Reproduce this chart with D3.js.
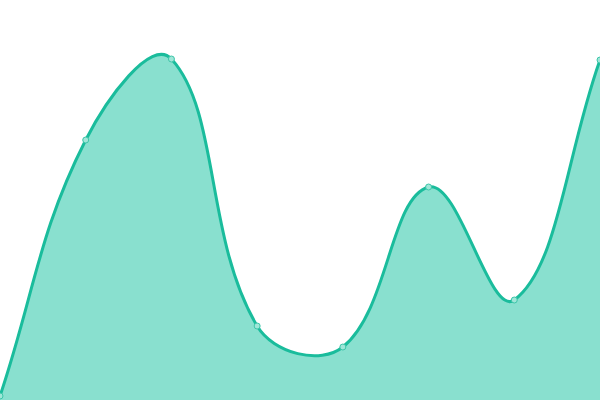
<!DOCTYPE html>
<html>
<head>
<meta charset="utf-8">
<script src="https://cdn.jsdelivr.net/npm/d3@7"></script>
<style>
  html, body { margin: 0; padding: 0; background: #fff; }
  svg { display: block; }
</style>
</head>
<body>
<script>
// Data (y on a 0-100 scale)
const xIndex = [0, 1, 2, 3, 4, 5, 6, 7];
const values = [1, 65, 85.25, 18.5, 13.25, 53.25, 25, 85];

const width = 600, height = 400;
const tension = 0.4;

const svg = d3.select("body").append("svg")
    .attr("width", width)
    .attr("height", height);

const x = d3.scaleLinear()
    .domain([0, xIndex.length - 1])
    .range([0, width]);

const y = d3.scaleLinear()
    .domain([0, 100])
    .range([height, 0]);

const data = xIndex.map((d, i) => ({ x: d, y: values[i] }));

// Distance-weighted bezier spline (same idea as Chart.js "tension" lines)
function TensionSpline(context) {
    this._context = context;
}
TensionSpline.prototype = {
    areaStart: function() { this._line = 0; },
    areaEnd: function() { this._line = NaN; },
    lineStart: function() { this._x = []; this._y = []; },
    point: function(px, py) { this._x.push(+px); this._y.push(+py); },
    lineEnd: function() {
        const xs = this._x, ys = this._y, n = xs.length, ctx = this._context;
        const clampX = v => Math.max(0, Math.min(width, v));
        const clampY = v => Math.max(0, Math.min(height, v));
        if (n) {
            this._line ? ctx.lineTo(xs[0], ys[0]) : ctx.moveTo(xs[0], ys[0]);
            if (n === 2) {
                ctx.lineTo(xs[1], ys[1]);
            } else if (n > 2) {
                const cpIn = [], cpOut = [];
                for (let i = 0; i < n; i++) {
                    const p = Math.max(i - 1, 0), q = Math.min(i + 1, n - 1);
                    const d01 = Math.hypot(xs[i] - xs[p], ys[i] - ys[p]);
                    const d12 = Math.hypot(xs[q] - xs[i], ys[q] - ys[i]);
                    let s01 = d01 / (d01 + d12), s12 = d12 / (d01 + d12);
                    if (isNaN(s01)) s01 = 0;
                    if (isNaN(s12)) s12 = 0;
                    const fa = tension * s01, fb = tension * s12;
                    const dx = xs[q] - xs[p], dy = ys[q] - ys[p];
                    cpIn.push([clampX(xs[i] - fa * dx), clampY(ys[i] - fa * dy)]);
                    cpOut.push([clampX(xs[i] + fb * dx), clampY(ys[i] + fb * dy)]);
                }
                for (let i = 0; i < n - 1; i++) {
                    ctx.bezierCurveTo(cpOut[i][0], cpOut[i][1], cpIn[i + 1][0], cpIn[i + 1][1], xs[i + 1], ys[i + 1]);
                }
            }
        }
        if (this._line || (this._line !== 0 && n === 1)) ctx.closePath();
        this._line = 1 - this._line;
        this._x = this._y = null;
    }
};
const curve = context => new TensionSpline(context);

// Filled area under the curve
const area = d3.area()
    .curve(curve)
    .x(d => x(d.x))
    .y0(height)
    .y1(d => y(d.y));

svg.append("path")
    .datum(data)
    .attr("d", area)
    .style("fill", "#89e0cf");

// Outline
const line = d3.line()
    .curve(curve)
    .x(d => x(d.x))
    .y(d => y(d.y));

svg.append("path")
    .datum(data)
    .attr("d", line)
    .style("fill", "none")
    .style("stroke", "#1abc9c")
    .style("stroke-width", 3);

// Point markers
svg.selectAll("circle")
    .data(data)
    .enter().append("circle")
    .attr("cx", d => x(d.x))
    .attr("cy", d => y(d.y))
    .attr("r", 3)
    .style("fill", "#a0e6d8")
    .style("stroke", "#3cc6a9")
    .style("stroke-width", 1);
</script>
</body>
</html>
